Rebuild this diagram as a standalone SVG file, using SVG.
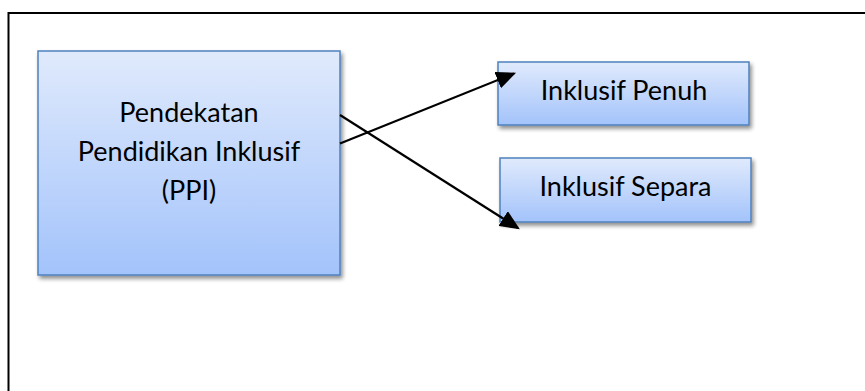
<svg xmlns="http://www.w3.org/2000/svg" width="865" height="391" viewBox="0 0 865 391">
  <style>
    .box { stroke: #4f81bd; stroke-width: 1.5; }
    .lbl { font-family: Lato, "Open Sans", "Liberation Sans", sans-serif; font-size: 27px; fill: #000; text-anchor: middle; }
    .conn { stroke: #000; stroke-width: 2.2; fill: none; }
  </style>
  <defs>
    <linearGradient id="g1" x1="0" y1="0" x2="0" y2="1">
      <stop offset="0" stop-color="#e0eafc"/>
      <stop offset="1" stop-color="#a3c3fb"/>
    </linearGradient>
    <filter id="sh" x="-10%" y="-10%" width="125%" height="130%">
      <feGaussianBlur in="SourceAlpha" stdDeviation="2"/>
      <feOffset dx="2" dy="3" result="b"/>
      <feComponentTransfer><feFuncA type="linear" slope="0.45"/></feComponentTransfer>
      <feMerge><feMergeNode/><feMergeNode in="SourceGraphic"/></feMerge>
    </filter>
    <marker id="arr" markerWidth="9" markerHeight="8" refX="8" refY="4" orient="auto" markerUnits="strokeWidth">
      <path d="M0,0 L9,4 L0,8 Z" fill="#000"/>
    </marker>
  </defs>
  <rect width="865" height="391" fill="#fff"/>
  <path d="M8.5,391 V13 H865" fill="none" stroke="#000" stroke-width="2"/>
  <g id="ppi">
    <rect class="box" x="38" y="51" width="302" height="224" fill="url(#g1)" filter="url(#sh)"/>
    <text class="lbl" x="189" y="122">Pendekatan</text>
    <text class="lbl" x="189" y="161">Pendidikan Inklusif</text>
    <text class="lbl" x="189" y="200">(PPI)</text>
  </g>
  <g id="penuh">
    <rect class="box" x="498" y="62" width="251" height="63" fill="url(#g1)" filter="url(#sh)"/>
    <text class="lbl" x="624" y="100">Inklusif Penuh</text>
  </g>
  <g id="separa">
    <rect class="box" x="500" y="158" width="251" height="64" fill="url(#g1)" filter="url(#sh)"/>
    <text class="lbl" x="625.5" y="196">Inklusif Separa</text>
  </g>
  <g id="connectors">
    <line class="conn" x1="340" y1="143.5" x2="514" y2="73.5" marker-end="url(#arr)"/>
    <line class="conn" x1="340" y1="115" x2="518" y2="228" marker-end="url(#arr)"/>
  </g>
</svg>
